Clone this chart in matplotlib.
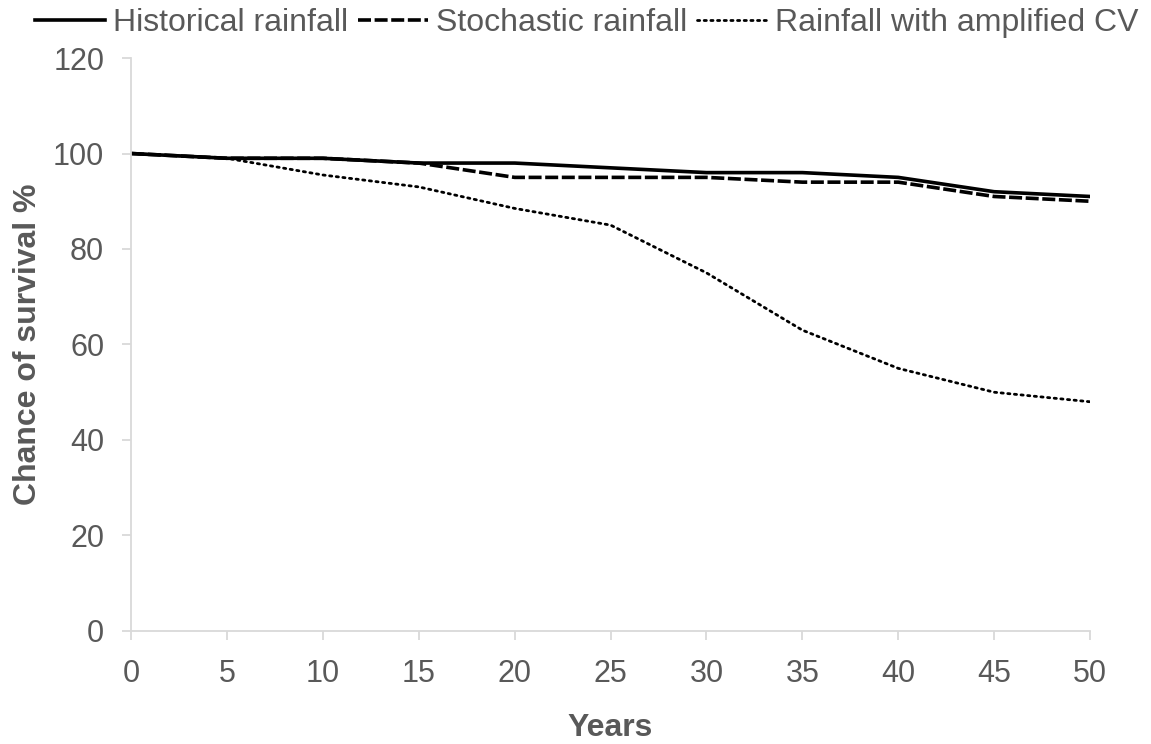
import matplotlib
matplotlib.use("Agg")
import matplotlib.pyplot as plt

years = [0, 5, 10, 15, 20, 25, 30, 35, 40, 45, 50]
historical = [100, 99, 99, 98, 98, 97, 96, 96, 95, 92, 91]
stochastic = [100, 99, 99, 98, 95, 95, 95, 94, 94, 91, 90]
amplified = [100, 99, 95.5, 93, 88.5, 85, 75, 63, 55, 50, 48]
labels = ["Historical rainfall", "Stochastic rainfall", "Rainfall with amplified CV"]

plt.rcParams['font.family'] = ['Liberation Sans', 'DejaVu Sans']
gray = '#595959'
spine = '#d9d9d9'

fig = plt.figure(figsize=(11.51, 7.44), dpi=100)
ax = fig.add_axes([0.114, 0.152, 0.833, 0.770])

ax.plot(years, historical, color='black', lw=2.6, ls='-', label=labels[0])
ax.plot(years, stochastic, color='black', lw=2.6, ls=(0, (3.6, 1.0)), label=labels[1])
ax.plot(years, amplified, color='black', lw=2.0, ls=(0, (0.8, 1.6)), label=labels[2],
        dash_capstyle='round')

ax.set_xlim(0, 50)
ax.set_ylim(0, 120)
ax.set_xticks(range(0, 51, 5))
ax.set_yticks(range(0, 121, 20))
for s in ['top', 'right']:
    ax.spines[s].set_visible(False)
for s in ['left', 'bottom']:
    ax.spines[s].set_color(spine)
    ax.spines[s].set_linewidth(1.3)
ax.tick_params(axis='both', colors=spine, labelcolor=gray, labelsize=22, length=6.5, width=1.3)
ax.tick_params(axis='x', pad=14)
ax.tick_params(axis='y', pad=13)

ax.set_xlabel('Years', fontsize=23, fontweight='bold', color=gray, labelpad=17)
ax.set_ylabel('Chance of survival %', fontsize=23, fontweight='bold', color=gray, labelpad=7)

fig.legend(loc='upper center', bbox_to_anchor=(0.51, 1.028), ncol=3, frameon=False,
           fontsize=23, handlelength=2.2, handletextpad=0.25, columnspacing=0.3,
           labelcolor=gray)

fig.savefig('out.png', dpi=100, facecolor='white')
